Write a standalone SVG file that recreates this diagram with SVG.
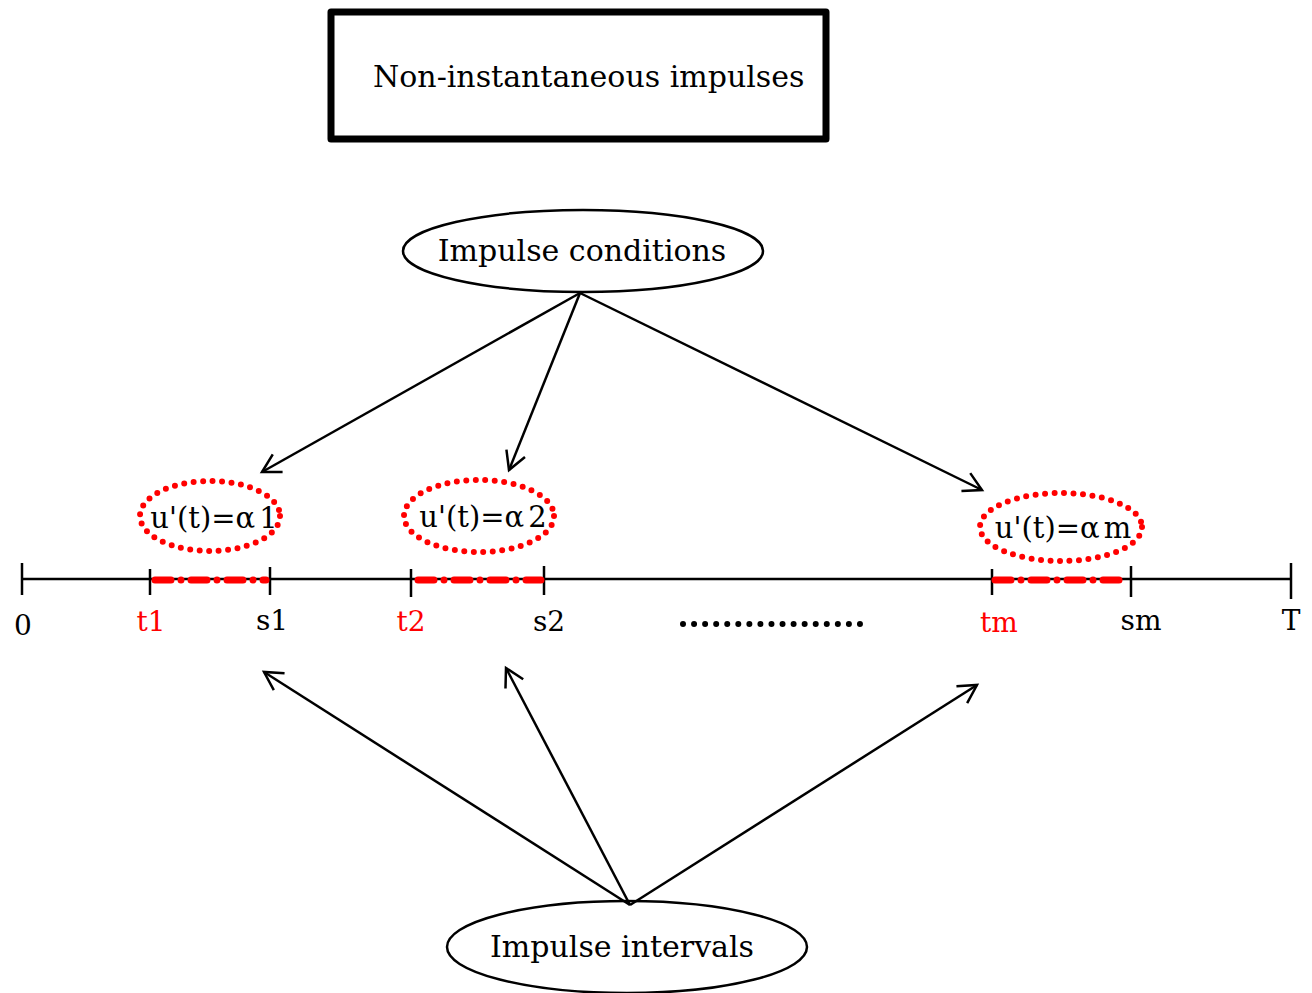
<svg xmlns="http://www.w3.org/2000/svg" width="1312" height="993" viewBox="0 0 1312 993">
<style>
text{font-family:"DejaVu Serif","Liberation Serif",serif;fill:#000}
.red{fill:#ff0000}
.lbl{font-size:29px}
.ax{font-size:28px}
.conn{stroke:#000;stroke-width:2.5;fill:none;marker-end:url(#arr)}
.node{fill:#fff;stroke:#000;stroke-width:2.5}
.dot{fill:none;stroke:#ff0000;stroke-width:6;stroke-dasharray:0 9.5;stroke-linecap:round}
.seg{stroke:#ff0000;stroke-width:7;stroke-linecap:round;stroke-dasharray:16 10 0 10}
.tick{stroke:#000;stroke-width:2.5}
</style>
<defs>
<marker id="arr" markerWidth="24" markerHeight="24" refX="20" refY="12" orient="auto" markerUnits="userSpaceOnUse">
<path d="M2,2 L20,12 L2,22" fill="none" stroke="#000" stroke-width="2.5"/>
</marker>
</defs>
<rect width="1312" height="993" fill="#fff"/>
<g id="title">
<rect x="331" y="12" width="495" height="127" fill="#fff" stroke="#000" stroke-width="7" stroke-linejoin="round"/>
<text x="373" y="87" font-size="30">Non-instantaneous impulses</text>
</g>
<g id="conditions">
<ellipse class="node" cx="583" cy="251" rx="180" ry="41"/>
<text x="582" y="261" font-size="30" text-anchor="middle">Impulse conditions</text>
</g>
<g id="intervals">
<ellipse class="node" cx="627" cy="947" rx="180" ry="46"/>
<text x="622" y="957" font-size="30" text-anchor="middle">Impulse intervals</text>
</g>
<g id="axis">
<line x1="22" y1="579" x2="1291" y2="579" class="tick"/>
<line x1="22" y1="563" x2="22" y2="595" class="tick"/>
<line x1="150" y1="569" x2="150" y2="595" class="tick"/>
<line x1="270" y1="567" x2="270" y2="595" class="tick"/>
<line x1="411" y1="569" x2="411" y2="597" class="tick"/>
<line x1="544" y1="566" x2="544" y2="595" class="tick"/>
<line x1="992" y1="569" x2="992" y2="595" class="tick"/>
<line x1="1131" y1="566" x2="1131" y2="597" class="tick"/>
<line x1="1291" y1="563" x2="1291" y2="599" class="tick"/>
<line x1="155" y1="580" x2="266" y2="580" class="seg"/>
<line x1="418" y1="580" x2="541" y2="580" class="seg"/>
<line x1="995" y1="580" x2="1128" y2="580" class="seg"/>
<text x="23" y="635" class="ax" text-anchor="middle">0</text>
<text x="151" y="631" class="ax red" text-anchor="middle">t1</text>
<text x="272" y="630" class="ax" text-anchor="middle">s1</text>
<text x="411" y="631" class="ax red" text-anchor="middle">t2</text>
<text x="549" y="631" class="ax" text-anchor="middle">s2</text>
<text x="999" y="632" class="ax red" text-anchor="middle">tm</text>
<text x="1141" y="630" class="ax" text-anchor="middle">sm</text>
<text x="1291" y="630" class="ax" text-anchor="middle">T</text>
<line x1="683" y1="624" x2="860" y2="624" stroke="#000" stroke-width="6" stroke-linecap="round" stroke-dasharray="0 11.06"/>
</g>
<g id="cond1">
<ellipse class="dot" cx="210" cy="516" rx="70" ry="35"/>
<text x="214" y="528" class="lbl" text-anchor="middle">u'(t)=α<tspan dx="4">1</tspan></text>
</g>
<g id="cond2">
<ellipse class="dot" cx="479" cy="516" rx="75" ry="36"/>
<text x="483" y="527" class="lbl" text-anchor="middle">u'(t)=α<tspan dx="4">2</tspan></text>
</g>
<g id="condm">
<ellipse class="dot" cx="1061" cy="527" rx="81" ry="34"/>
<text x="1063" y="538" class="lbl" text-anchor="middle">u'(t)=α<tspan dx="4">m</tspan></text>
</g>
<g id="connectors">
<line class="conn" x1="580" y1="293" x2="262" y2="472"/>
<line class="conn" x1="580" y1="293" x2="509" y2="470"/>
<line class="conn" x1="580" y1="293" x2="982" y2="490"/>
<line class="conn" x1="630" y1="905" x2="264" y2="672"/>
<line class="conn" x1="630" y1="905" x2="506" y2="668"/>
<line class="conn" x1="630" y1="905" x2="977" y2="685"/>
</g>
</svg>
